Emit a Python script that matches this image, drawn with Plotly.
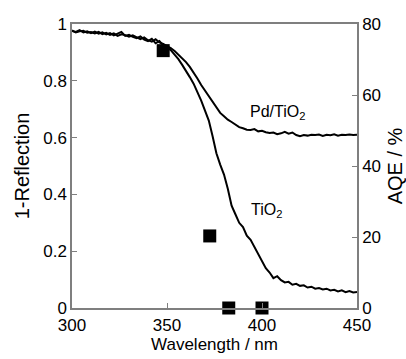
import plotly.graph_objects as go

wavelength = list(range(300, 452, 2))

tio2 = [0.975, 0.972, 0.978, 0.970, 0.974, 0.968, 0.973, 0.966, 0.971, 0.963,
        0.968, 0.960, 0.966, 0.972, 0.958, 0.962, 0.955, 0.950, 0.956, 0.945,
        0.940, 0.948, 0.932, 0.940, 0.925, 0.918, 0.908, 0.893, 0.876, 0.856,
        0.836, 0.813, 0.790, 0.762, 0.730, 0.695, 0.660, 0.605, 0.545, 0.505,
        0.470, 0.420, 0.360, 0.330, 0.300, 0.285, 0.255, 0.240, 0.215, 0.190,
        0.170, 0.140, 0.125, 0.105, 0.112, 0.098, 0.090, 0.092, 0.082, 0.085,
        0.078, 0.080, 0.072, 0.075, 0.068, 0.070, 0.065, 0.068, 0.062, 0.064,
        0.058, 0.062, 0.056, 0.060, 0.055, 0.056]

pd_tio2 = [0.978, 0.970, 0.974, 0.976, 0.969, 0.972, 0.967, 0.972, 0.964, 0.969,
           0.962, 0.967, 0.958, 0.964, 0.961, 0.955, 0.960, 0.952, 0.947, 0.953,
           0.943, 0.938, 0.946, 0.935, 0.930, 0.922, 0.915, 0.905, 0.893, 0.880,
           0.866, 0.849, 0.830, 0.808, 0.785, 0.765, 0.748, 0.728, 0.705, 0.687,
           0.675, 0.663, 0.655, 0.645, 0.637, 0.633, 0.628, 0.627, 0.630, 0.622,
           0.624, 0.619, 0.616, 0.618, 0.612, 0.615, 0.620, 0.614, 0.618, 0.609,
           0.605, 0.609, 0.607, 0.610, 0.609, 0.611, 0.606, 0.610, 0.608, 0.612,
           0.607, 0.610, 0.609, 0.611, 0.609, 0.610]

aqe_wavelength = [348, 372.5, 382.5, 400]
aqe_values = [72.5, 20.3, 0, 0]

x_ticks = [300, 350, 400, 450]
y_ticks = [0, 0.2, 0.4, 0.6, 0.8, 1]
y_tick_labels = ["0", "0.2", "0.4", "0.6", "0.8", "1"]
y2_ticks = [0, 20, 40, 60, 80]

FONT = "Liberation Sans"
AX = "#7f7f7f"

fig = go.Figure()
fig.add_trace(go.Scatter(x=wavelength, y=tio2, mode="lines",
                         line=dict(color="black", width=2), showlegend=False))
fig.add_trace(go.Scatter(x=wavelength, y=pd_tio2, mode="lines",
                         line=dict(color="black", width=2), showlegend=False))
fig.add_trace(go.Scatter(x=aqe_wavelength, y=aqe_values, mode="markers", yaxis="y2",
                         marker=dict(symbol="square", size=13, color="black"),
                         cliponaxis=False, showlegend=False))

fig.add_annotation(x=392.5, y=0.69, text="Pd/TiO<sub>2</sub>", showarrow=False,
                   xanchor="left", yanchor="middle",
                   font=dict(family=FONT, size=16, color="black"))
fig.add_annotation(x=393.0, y=0.345, text="TiO<sub>2</sub>", showarrow=False,
                   xanchor="left", yanchor="middle",
                   font=dict(family=FONT, size=16, color="black"))

fig.update_layout(
    width=406, height=359,
    margin=dict(l=72, r=49, t=24, b=51),
    paper_bgcolor="white", plot_bgcolor="white",
    font=dict(family=FONT, size=17, color="black"),
    xaxis=dict(range=[300, 450], tickvals=x_ticks, ticks="inside", ticklen=5,
               tickcolor=AX, showline=True, linecolor=AX, linewidth=1.5,
               mirror=True, showgrid=False, zeroline=False, ticklabelstandoff=1,
               automargin=False,
               title=dict(text="Wavelength / nm", standoff=2,
                          font=dict(family=FONT, size=17, color="black"))),
    yaxis=dict(range=[0, 1], tickvals=y_ticks, ticktext=y_tick_labels,
               ticks="inside", ticklen=5, tickcolor=AX, showline=True,
               linecolor=AX, linewidth=1.5, showgrid=False, zeroline=False,
               automargin=False, ticklabelstandoff=0,
               title=dict(text="1-Reflection", standoff=8)),
    yaxis2=dict(range=[0, 80], tickvals=y2_ticks, overlaying="y", side="right",
                ticks="inside", ticklen=5, tickcolor=AX, showline=True,
                linecolor=AX, linewidth=1.5, showgrid=False, zeroline=False,
                automargin=False,
                title=dict(text="AQE / %", standoff=14)),
)

fig.write_html("out.html")
